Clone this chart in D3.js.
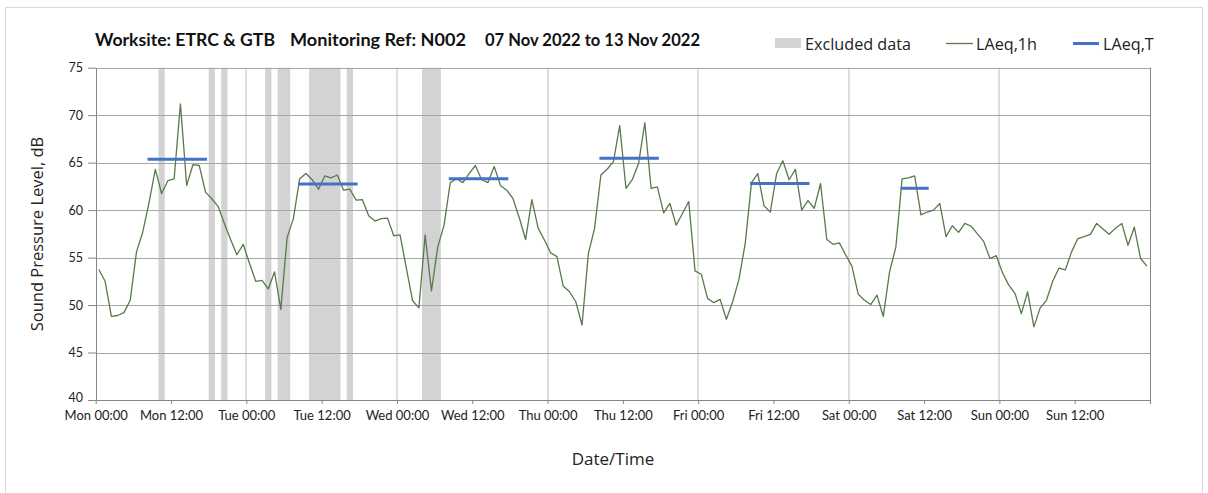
<!DOCTYPE html>
<html><head><meta charset="utf-8">
<script src="https://cdn.jsdelivr.net/npm/d3@7"></script>
<style>
body{margin:0;background:#fff}
svg{display:block}
.cal{font-family:Lato,"Open Sans",sans-serif}
.seg{font-family:"Open Sans",sans-serif}
</style>
</head><body>
<svg id="c" width="1208" height="493"></svg>
<script>
// ---------------- data ----------------
const periodStartYear = 2022, periodStartMonth = 10, periodStartDay = 7; // Mon 07 Nov 2022
const hoursInPeriod = 168;
// hourly LAeq,1h (dB), one value per hour from Mon 00:00
const laeq1h = [
  53.75, 52.5, 48.8, 48.9, 49.2, 50.5, 55.6, 57.7, 60.8, 64.3, 61.75, 63.1, 63.3, 71.2, 62.6, 64.8, 64.7, 61.9, 61.2, 60.4, 58.6, 56.9, 55.3, 56.4,
  54.4, 52.5, 52.6, 51.7, 53.5, 49.55, 57.1, 59.1, 63.3, 63.85, 63.2, 62.2, 63.6, 63.4, 63.7, 62.1, 62.2, 61.05, 61.1, 59.4, 58.85, 59.1, 59.15, 57.3,
  57.4, 53.9, 50.45, 49.7, 57.4, 51.5, 56.1, 58.4, 62.9, 63.3, 62.9, 63.85, 64.7, 63.2, 62.9, 64.6, 62.6, 62.1, 61.2, 59.2, 56.9, 61.1, 58.1, 56.85,
  55.5, 55.1, 52.0, 51.4, 50.35, 47.9, 55.4, 58.1, 63.7, 64.3, 65.1, 68.9, 62.3, 63.2, 64.9, 69.2, 62.3, 62.45, 59.7, 60.7, 58.4, 59.65, 60.9, 53.6,
  53.25, 50.7, 50.25, 50.6, 48.5, 50.35, 52.7, 56.5, 62.9, 63.85, 60.45, 59.8, 63.85, 65.2, 63.2, 64.3, 60.0, 61.0, 60.2, 62.8, 56.9, 56.4, 56.55, 55.3,
  54.1, 51.15, 50.5, 50.05, 51.05, 48.8, 53.5, 56.1, 63.3, 63.4, 63.6, 59.5, 59.8, 60.0, 60.7, 57.2, 58.35, 57.65, 58.6, 58.3, 57.5, 56.7, 54.9, 55.2,
  53.4, 52.1, 51.2, 49.1, 51.4, 47.7, 49.7, 50.5, 52.5, 53.9, 53.7, 55.6, 57.0, 57.2, 57.45, 58.6, 58.0, 57.45, 58.1, 58.6, 56.3, 58.2, 54.9, 54.1
];
// excluded data periods (hours from Mon 00:00)
const excludedFrom = [10, 18, 20, 27, 29, 34, 40, 52];
const excludedTo   = [11, 19, 21, 28, 31, 39, 41, 55];
// LAeq,T working-period levels
const laeqTFrom  = [8.5, 32.5, 56.5, 80.5, 104.5, 128.5];
const laeqTTo    = [17.5, 41.5, 65.5, 89.5, 113.5, 132.5];
const laeqTValue = [65.35, 62.75, 63.3, 65.45, 62.8, 62.3];
const yTickValues = [40, 45, 50, 55, 60, 65, 70, 75];
const titleParts = ["Worksite: ETRC & GTB", "Monitoring Ref: N002", "07 Nov 2022 to 13 Nov 2022"];
const legendLabels = ["Excluded data", "LAeq,1h", "LAeq,T"];
const xAxisTitle = "Date/Time";
const yAxisTitle = "Sound Pressure Level, dB";

// ---------------- drawing ----------------
const svg = d3.select("#c");
const t0 = new Date(periodStartYear, periodStartMonth, periodStartDay, 0, 0);
const atHour = h => new Date(t0.getTime() + h * 3600e3);
const tEnd = atHour(hoursInPeriod);

const L = 95.7, R = 1150, T = 67.7, B = 400;
const x = d3.scaleTime().domain([t0, tEnd]).range([L, R]);
const y = d3.scaleLinear().domain([40, 75]).range([B, T]);

// outer frame
svg.append("rect").attr("x", 5.5).attr("y", 7.5).attr("width", 1197).attr("height", 520)
  .attr("fill", "#fff").attr("stroke", "#d9d9d9");

// excluded bands
svg.append("g").selectAll("rect").data(excludedFrom.map((f, i) => [f, excludedTo[i]])).join("rect")
  .attr("x", d => x(atHour(d[0])))
  .attr("width", d => x(atHour(d[1])) - x(atHour(d[0])))
  .attr("y", T).attr("height", B - T)
  .attr("fill", "#d3d3d3");

// vertical day gridlines
const dayLines = d3.timeDay.range(d3.timeDay.offset(t0, 1), tEnd);
svg.append("g").selectAll("line").data(dayLines).join("line")
  .attr("x1", d => Math.round(x(d))).attr("x2", d => Math.round(x(d)))
  .attr("y1", T).attr("y2", B)
  .attr("stroke", "#d9d9d9").attr("stroke-width", 2).attr("opacity", 0.85);

// horizontal gridlines
svg.append("g").selectAll("line").data(yTickValues.filter(v => v > 40)).join("line")
  .attr("x1", L).attr("x2", R)
  .attr("y1", d => Math.round(y(d)) + 0.5).attr("y2", d => Math.round(y(d)) + 0.5)
  .attr("stroke", "#a6a6a6").attr("stroke-width", 1);

// right border
svg.append("line").attr("x1", Math.round(R) + 0.5).attr("x2", Math.round(R) + 0.5)
  .attr("y1", T).attr("y2", B).attr("stroke", "#868686");

// axes
const fmt = d3.timeFormat("%a %H:%M");
const xAxis = d3.axisBottom(x)
  .tickValues(d3.timeHour.every(12).range(t0, d3.timeHour.offset(tEnd, 1)))
  .tickFormat(d => d < tEnd ? fmt(d) : "")
  .tickSizeInner(4).tickSizeOuter(0).tickPadding(7);
const gx = svg.append("g").attr("transform", `translate(0,${Math.round(B)})`).call(xAxis);
gx.selectAll("path,line").attr("stroke", "#868686");
gx.selectAll("text").attr("class", "cal").attr("font-size", 13).attr("fill", "#222");

const yAxis = d3.axisLeft(y).tickValues(yTickValues).tickSizeInner(8).tickSizeOuter(0).tickPadding(5);
const gy = svg.append("g").attr("transform", `translate(${Math.round(L)},0)`).call(yAxis);
gy.selectAll("path,line").attr("stroke", "#868686");
gy.selectAll("text").attr("class", "cal").attr("font-size", 12.5).attr("fill", "#222");
gy.selectAll(".tick").filter(d => d === 40).select("text").attr("dy", "0.1em");

// hourly line
const line = d3.line().x((d, i) => x(atHour(i + 0.5))).y(d => y(d));
svg.append("path").datum(laeq1h).attr("d", line)
  .attr("fill", "none").attr("stroke", "#587a4a").attr("stroke-width", 1.3).attr("stroke-linejoin", "round");

// LAeq,T segments
svg.append("g").selectAll("line").data(laeqTValue.map((v, i) => ({v, f: laeqTFrom[i], t: laeqTTo[i]}))).join("line")
  .attr("x1", d => x(atHour(d.f))).attr("x2", d => x(atHour(d.t)))
  .attr("y1", d => y(d.v)).attr("y2", d => y(d.v))
  .attr("stroke", "#4472c4").attr("stroke-width", 3).attr("stroke-linecap", "square");

// title
const titleX = [95, 290, 485];
const titleW = [180, 176, 215];
svg.append("g").selectAll("text").data(titleParts).join("text")
  .attr("class", "cal").attr("x", (d, i) => titleX[i]).attr("y", 46)
  .attr("font-size", 16.5).attr("font-weight", "bold").attr("fill", "#111")
  .attr("textLength", (d, i) => titleW[i]).attr("lengthAdjust", "spacingAndGlyphs")
  .text(d => d);

// legend
const lg = svg.append("g");
lg.append("rect").attr("x", 775).attr("y", 38).attr("width", 26).attr("height", 10).attr("fill", "#d3d3d3");
lg.append("line").attr("x1", 946).attr("x2", 973).attr("y1", 43.5).attr("y2", 43.5).attr("stroke", "#587a4a").attr("stroke-width", 1.3);
lg.append("line").attr("x1", 1073).attr("x2", 1099).attr("y1", 43.5).attr("y2", 43.5).attr("stroke", "#4472c4").attr("stroke-width", 3);
const legX = [805, 976, 1103];
lg.selectAll("text").data(legendLabels).join("text")
  .attr("class", "seg").attr("x", (d, i) => legX[i]).attr("y", 49.5)
  .attr("font-size", 16.2).attr("fill", "#222").text(d => d);

// axis titles
svg.append("text").attr("class", "seg").attr("x", 613).attr("y", 458)
  .attr("text-anchor", "middle").attr("dominant-baseline", "central")
  .attr("font-size", 17).attr("fill", "#222").text(xAxisTitle);
svg.append("text").attr("class", "seg")
  .attr("transform", "translate(36,234) rotate(-90)")
  .attr("text-anchor", "middle").attr("dominant-baseline", "central")
  .attr("font-size", 16.5).attr("fill", "#222").text(yAxisTitle);
</script>
</body></html>
